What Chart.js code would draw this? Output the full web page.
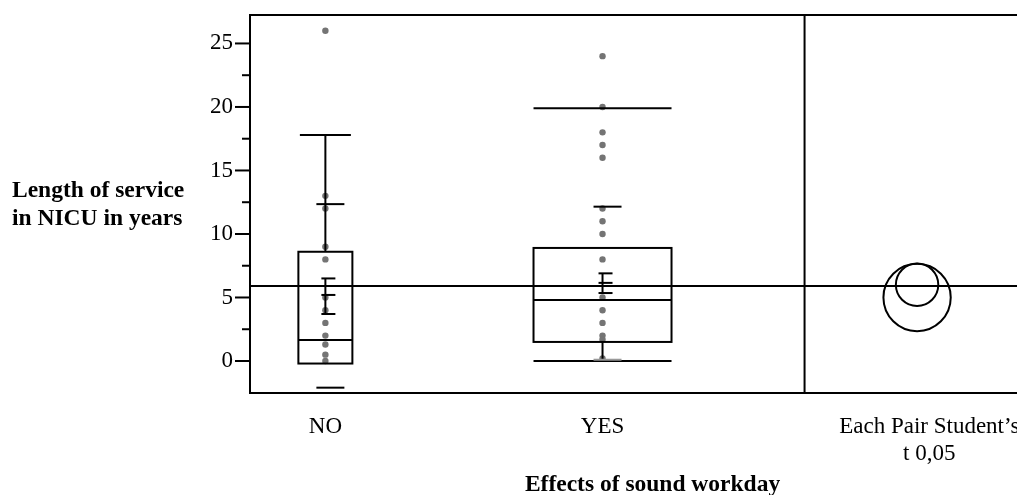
<!DOCTYPE html>
<html><head><meta charset="utf-8">
<script src="https://cdn.jsdelivr.net/npm/chart.js@4.4.0/dist/chart.umd.min.js"></script>
<style>html,body{margin:0;padding:0;background:#fff;overflow:hidden}#wrap{width:1017px;height:495px;position:relative}</style>
</head><body><div id="wrap"><canvas id="c" width="1017" height="495"></canvas></div>
<script>
// ---- data ----
const categories = ['NO', 'YES'];
const noValues = [26, 13, 12, 9, 8, 5, 4, 3, 2, 1.3, 0.5, 0];
const yesValues = [24, 20, 18, 17, 16, 12, 11, 10, 8, 5, 4, 3, 2, 1.7, 0.2];
const boxQ1 = [-0.2, 1.5];
const boxMedian = [1.65, 4.8];
const boxQ3 = [8.6, 8.9];
const whiskerHigh = [17.8, 19.9];
const whiskerLow = [null, 0];
const meanValues = [5.2, 6.15];
const meanCILow = [3.7, 5.35];
const meanCIHigh = [6.5, 6.9];
const sdHigh = [12.35, 12.15];
const sdLow = [-2.1, 0.1];
const grandMean = 5.9;
const circleCenters = [5.0, 6.0];
const circleRadii = [2.65, 1.67];
const yTicks = [0, 5, 10, 15, 20, 25];
const yMinorTicks = [2.5, 7.5, 12.5, 17.5, 22.5];
const xTickLabels = ['NO', 'YES', ['Each Pair Student\u2019s', 't 0,05']];
const yTitleLines = ['Length of service', 'in NICU in years'];
const xTitle = 'Effects of sound workday';

// ---- layout / style (not data) ----
const catPos = [1, 2];
const circlePos = 3.135;
const labelPos = [1, 2, 3.179];
const separatorPos = 2.729;
const boxHalf = [27, 69];
const capHalf = [25.5, 69];
const showUpperStem = [true, false];
const sdLowColor = ['#000', '#999'];
const FONT = "'Liberation Serif', 'Times New Roman', serif";

const jmp = {
  id: 'jmp',
  afterDatasetsDraw(chart) {
    const ctx = chart.ctx, x = chart.scales.x, y = chart.scales.y, a = chart.chartArea;
    const Y = v => y.getPixelForValue(v);
    const X = v => x.getPixelForValue(v);
    ctx.save();
    ctx.strokeStyle = '#000';
    ctx.lineWidth = 2;
    const line = (x1, y1, x2, y2, col) => {
      ctx.strokeStyle = col || '#000';
      ctx.beginPath(); ctx.moveTo(x1, y1); ctx.lineTo(x2, y2); ctx.stroke();
    };
    // frame top/bottom + separator
    line(a.left - 1, a.top, a.right + 4, a.top);
    line(a.left - 1, a.bottom, a.right + 4, a.bottom);
    line(X(separatorPos), a.top, X(separatorPos), a.bottom);
    // grand mean
    line(a.left, Y(grandMean), a.right + 4, Y(grandMean));
    // y tick marks
    yTicks.forEach(v => line(a.left - 15, Y(v), a.left, Y(v)));
    yMinorTicks.forEach(v => line(a.left - 8, Y(v), a.left, Y(v)));
    // boxes
    categories.forEach((c, i) => {
      const cx = X(catPos[i]);
      const h = boxHalf[i];
      ctx.strokeStyle = '#000';
      ctx.strokeRect(cx - h, Y(boxQ3[i]), 2 * h, Y(boxQ1[i]) - Y(boxQ3[i]));
      line(cx - h, Y(boxMedian[i]), cx + h, Y(boxMedian[i]));
      if (whiskerHigh[i] != null) {
        if (showUpperStem[i]) line(cx, Y(boxQ3[i]), cx, Y(whiskerHigh[i]));
        line(cx - capHalf[i], Y(whiskerHigh[i]), cx + capHalf[i], Y(whiskerHigh[i]));
      }
      if (whiskerLow[i] != null) {
        line(cx, Y(boxQ1[i]), cx, Y(whiskerLow[i]));
        line(cx - capHalf[i], Y(whiskerLow[i]), cx + capHalf[i], Y(whiskerLow[i]));
      }
      line(cx - 9, Y(sdHigh[i]), cx + 19, Y(sdHigh[i]));
      line(cx - 9, Y(sdLow[i]), cx + 19, Y(sdLow[i]), sdLowColor[i]);
      line(cx, Y(meanCIHigh[i]), cx, Y(meanCILow[i]));
      [meanCIHigh[i], meanValues[i], meanCILow[i]].forEach(v => line(cx - 4, Y(v), cx + 10, Y(v)));
      const ccx = X(circlePos);
      const r = Y(0) - Y(circleRadii[i]);
      ctx.strokeStyle = '#000';
      ctx.beginPath(); ctx.arc(ccx, Y(circleCenters[i]), r, 0, Math.PI * 2); ctx.stroke();
    });
    // titles
    ctx.fillStyle = '#000';
    ctx.font = 'bold 23.5px ' + FONT;
    ctx.textBaseline = 'alphabetic';
    ctx.textAlign = 'left';
    ctx.fillText(yTitleLines[0], 12, 197);
    ctx.fillText(yTitleLines[1], 12, 224.5);
    ctx.textAlign = 'center';
    ctx.fillText(xTitle, a.left + (a.right - a.left) * 0.527, 491);
    ctx.restore();
  }
};

new Chart(document.getElementById('c'), {
  type: 'scatter',
  data: {
    datasets: [
      { label: categories[0], data: noValues.map(v => ({ x: catPos[0], y: v })) },
      { label: categories[1], data: yesValues.map(v => ({ x: catPos[1], y: v })) }
    ]
  },
  options: {
    responsive: false, animation: false, devicePixelRatio: 1,
    elements: { point: { radius: 3.2, backgroundColor: '#747474', borderWidth: 0, hoverRadius: 3.2 } },
    layout: { padding: { top: 15, left: 0, right: 0, bottom: 0 } },
    plugins: { legend: { display: false }, tooltip: { enabled: false } },
    scales: {
      x: {
        type: 'linear', min: 0.728, max: 3.484,
        grid: { display: false, drawTicks: false },
        border: { display: true, color: '#000', width: 2 },
        afterBuildTicks: s => { s.ticks = labelPos.map(v => ({ value: v })); },
        afterFit: s => { s.height = 102; s.paddingLeft = 0; s.paddingRight = 0; },
        ticks: {
          autoSkip: false, maxRotation: 0, minRotation: 0, padding: 20, color: '#000',
          font: { family: FONT, size: 23 },
          callback: (v, i) => xTickLabels[i]
        },
        title: { display: false }
      },
      y: {
        type: 'linear', min: -2.52, max: 27.24,
        grid: { display: false, drawTicks: false },
        border: { display: true, color: '#000', width: 2 },
        afterBuildTicks: s => { s.ticks = yTicks.map(v => ({ value: v })); },
        afterFit: s => { s.width = 250; s.paddingTop = 0; s.paddingBottom = 0; },
        ticks: { padding: 17, color: '#000', font: { family: FONT, size: 23 } }
      }
    }
  },
  plugins: [jmp]
});
</script></body></html>
